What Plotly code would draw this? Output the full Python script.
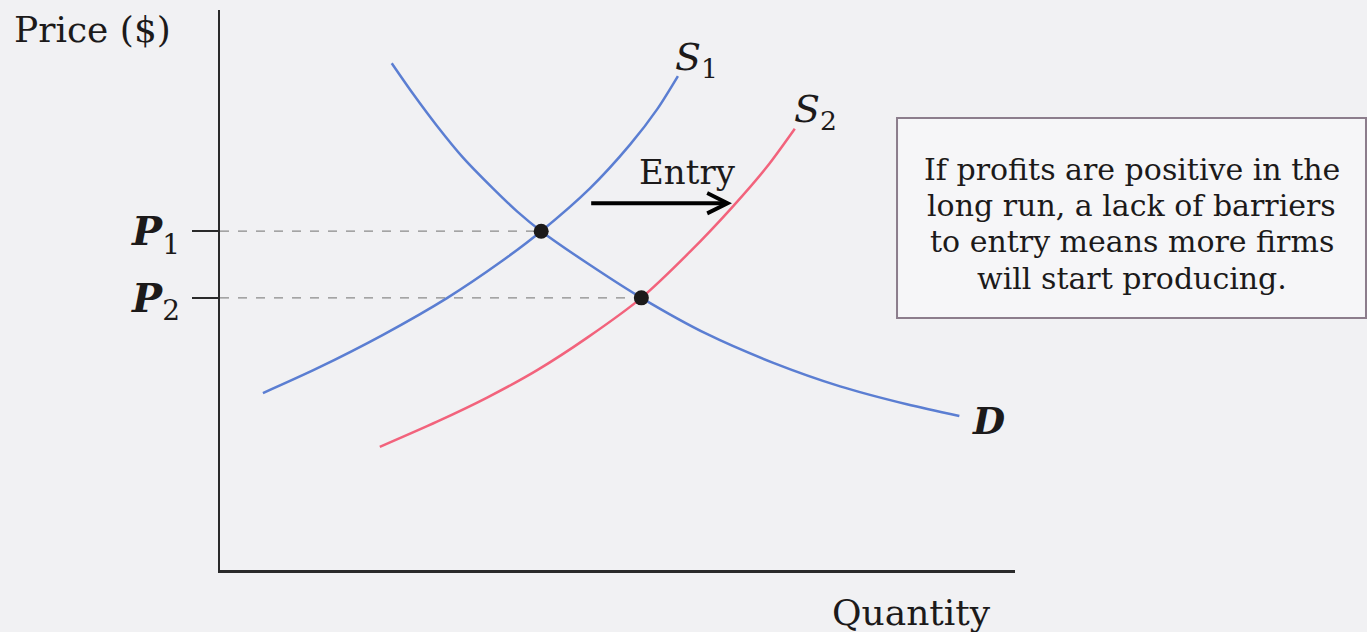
import plotly.graph_objects as go

# Demand curve D (quantity, price)
d_q = [21.6, 24.3, 27.3, 30.6, 34.3, 37.4, 40.4, 46.5, 53.0, 61.3, 69.6, 78.0, 86.4, 93.0]
d_p = [90.5, 85.0, 79.3, 73.6, 68.2, 64.0, 60.5, 54.5, 48.6, 42.1, 37.0, 32.8, 29.6, 27.5]

# Initial supply S1
s1_q = [5.4, 12.2, 20.5, 28.6, 35.2, 40.4, 46.5, 51.6, 55.0, 57.6]
s1_p = [31.6, 36.0, 42.0, 48.6, 54.9, 60.5, 68.1, 76.0, 82.3, 88.2]

# Supply after entry S2
s2_q = [20.1, 27.3, 33.6, 39.9, 46.2, 53.0, 59.1, 64.5, 68.8, 72.3]
s2_p = [22.0, 26.5, 30.8, 35.7, 41.5, 48.6, 56.8, 64.9, 72.0, 78.8]

# Equilibria
eq_q = [40.4, 53.0]
eq_p = [60.5, 48.6]
price_ticks = ["<b><i>P</i></b><sub>1</sub>", "<b><i>P</i></b><sub>2</sub>"]

note_lines = [
    "If profits are positive in the",
    "long run, a lack of barriers",
    "to entry means more firms",
    "will start producing.",
]

BLUE = "#5b7ed2"
RED = "#f2637c"
INK = "#1c1a1a"
FONT = "DejaVu Serif"
BG = "#f1f1f3"

fig = go.Figure()

# dashed guides from the price axis to each equilibrium
for q, p in zip(eq_q, eq_p):
    fig.add_trace(go.Scatter(x=[0, q], y=[p, p], mode="lines",
                             line=dict(color="#8a8a8a", width=1.3, dash="dash"),
                             hoverinfo="skip", showlegend=False))

curve_line = dict(width=2.5, shape="spline", smoothing=0.8)
fig.add_trace(go.Scatter(x=s1_q, y=s1_p, mode="lines", line=dict(color=BLUE, **curve_line),
                         showlegend=False))
fig.add_trace(go.Scatter(x=s2_q, y=s2_p, mode="lines", line=dict(color=RED, **curve_line),
                         showlegend=False))
fig.add_trace(go.Scatter(x=d_q, y=d_p, mode="lines", line=dict(color=BLUE, **curve_line),
                         showlegend=False))
fig.add_trace(go.Scatter(x=eq_q, y=eq_p, mode="markers", marker=dict(color=INK, size=15),
                         showlegend=False))

annotations = []
# curve labels
annotations.append(dict(x=57.0, y=91.1, xref="x", yref="y", xanchor="left", yanchor="middle",
                        text="<i>S</i><sub>1</sub>", showarrow=False, font=dict(family=FONT, size=38, color=INK)))
annotations.append(dict(x=71.9, y=81.8, xref="x", yref="y", xanchor="left", yanchor="middle",
                        text="<i>S</i><sub>2</sub>", showarrow=False, font=dict(family=FONT, size=38, color=INK)))
annotations.append(dict(x=94.3, y=26.6, xref="x", yref="y", xanchor="left", yanchor="middle",
                        text="<b><i>D</i></b>", showarrow=False, font=dict(family=FONT, size=37, color=INK)))

# entry arrow and label
annotations.append(dict(x=64.4, y=65.5, ax=46.5, ay=65.5, xref="x", yref="y", axref="x", ayref="y",
                        text="", showarrow=True, arrowhead=5, arrowwidth=4, arrowsize=1, arrowcolor="#000000"))
annotations.append(dict(x=58.8, y=71.1, xref="x", yref="y", xanchor="center", yanchor="middle",
                        text="Entry", showarrow=False, font=dict(family=FONT, size=34, color=INK)))

# axis titles
annotations.append(dict(x=-0.262, y=0.966, xref="paper", yref="paper", xanchor="left", yanchor="middle",
                        text="Price ($)", showarrow=False, font=dict(family=FONT, size=36, color=INK)))
annotations.append(dict(x=0.870, y=-0.075, xref="paper", yref="paper", xanchor="center", yanchor="middle",
                        text="Quantity", showarrow=False, font=dict(family=FONT, size=36, color=INK)))

# explanatory note
line_y = [0.716, 0.651, 0.586, 0.521]
for txt, yy in zip(note_lines, line_y):
    annotations.append(dict(x=1.147, y=yy, xref="paper", yref="paper", xanchor="center", yanchor="middle",
                            text=txt, showarrow=False, font=dict(family=FONT, size=30, color=INK)))

fig.update_layout(
    width=1367, height=632,
    margin=dict(l=220, r=352, t=10, b=62),
    paper_bgcolor=BG, plot_bgcolor="rgba(0,0,0,0)",
    annotations=annotations,
    shapes=[
        dict(type="rect", xref="paper", yref="paper", x0=0.8516, x1=1.4415, y0=0.45, y1=0.807,
             line=dict(color="#8c7d8c", width=2), fillcolor="rgba(246,246,248,0.9)", layer="below"),
    ],
    xaxis=dict(range=[0, 100], showgrid=False, zeroline=False, showticklabels=False, ticks="",
               showline=True, linecolor="#2a2a2a", linewidth=2.5, fixedrange=True),
    yaxis=dict(range=[0, 100], showgrid=False, zeroline=False, showline=True, linecolor="#2a2a2a",
               linewidth=2, tickmode="array", tickvals=eq_p, ticktext=price_ticks, ticks="outside",
               ticklen=26, tickwidth=1.5, tickcolor="#2a2a2a", ticklabelstandoff=4,
               tickfont=dict(family=FONT, size=40, color=INK), fixedrange=True),
)

fig.write_html("out.html")
